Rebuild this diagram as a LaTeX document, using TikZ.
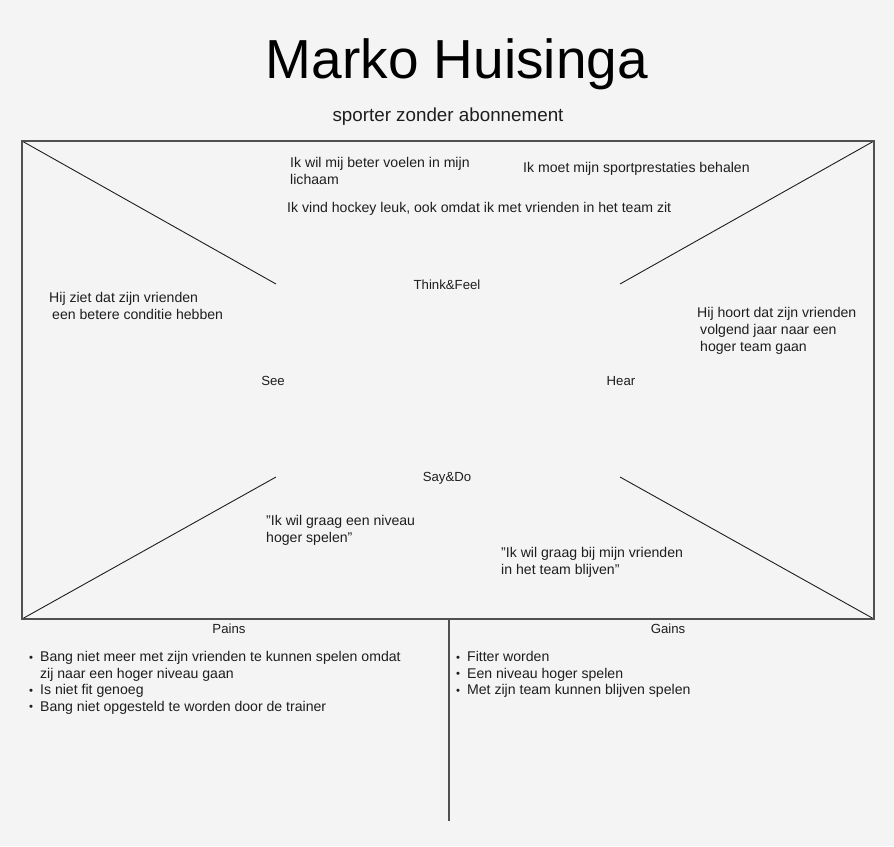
\documentclass[tikz,border=0pt]{standalone}
\usepackage{fontspec}
\setmainfont{Liberation Sans}
\definecolor{bg}{HTML}{F4F4F4}
\definecolor{ink}{HTML}{1E1E1E}
\definecolor{frame}{HTML}{505050}
\newcommand{\smallbul}{\raisebox{0.5pt}{\scalebox{0.8}{\textbullet}}}
\tikzset{
  txt/.style={anchor=north west, inner sep=0pt, align=left, text=ink, font=\fontsize{14.1}{17}\selectfont},
  lst/.style={anchor=north west, inner sep=0pt, align=left, text=ink, font=\fontsize{14.1}{16.5}\selectfont},
  lbl/.style={anchor=center, inner sep=0pt, text=ink, font=\fontsize{13.2}{16}\selectfont},
  diag/.style={draw=ink, line width=0.9pt},
  box/.style={draw=frame, line width=1.6pt},
}
\begin{document}
\begin{tikzpicture}[x=1pt,y=-1pt]
\fill[bg] (0,0) rectangle (894,846);
\useasboundingbox (0,0) rectangle (894,846);
% title
\node[anchor=base, inner sep=0pt, text=black, font=\fontsize{55}{62}\selectfont] (title) at (457,78) {Marko Huisinga};
\node[anchor=base, inner sep=0pt, text=ink, font=\fontsize{18.8}{22}\selectfont] (sub) at (448,121) {sporter zonder abonnement};
% frame
\coordinate (tl) at (22,141);
\coordinate (tr) at (874,141);
\coordinate (bl) at (22,619);
\coordinate (br) at (874,619);
\coordinate (itl) at (276,284);
\coordinate (itr) at (620,284);
\coordinate (ibl) at (276,477);
\coordinate (ibr) at (620,477);
\coordinate (divtop) at (449,619);
\coordinate (divbot) at (449,821);
\draw[diag] (tl) -- (itl);
\draw[diag] (tr) -- (itr);
\draw[diag] (bl) -- (ibl);
\draw[diag] (br) -- (ibr);
\draw[box] (tl) rectangle (br);
\draw[box] (divtop) -- (divbot);
% quadrant labels
\node[lbl] (think) at (447,285) {Think\&Feel};
\node[lbl] (see) at (273,381) {See};
\node[lbl] (hear) at (621,381) {Hear};
\node[lbl] (say) at (447,478) {Say\&Do};
% think texts
\node[txt] (t1) at (290,157) {Ik wil mij beter voelen in mijn\\lichaam};
\node[txt] (t2) at (523,162) {Ik moet mijn sportprestaties behalen};
\node[txt] (t3) at (287,202) {Ik vind hockey leuk, ook omdat ik met vrienden in het team zit};
% see
\node[txt] (s1) at (49,292) {Hij ziet dat zijn vrienden\\\hspace*{3pt}een betere conditie hebben};
% hear
\node[txt] (h1) at (697,307) {Hij hoort dat zijn vrienden\\\hspace*{3pt}volgend jaar naar een\\\hspace*{3pt}hoger team gaan};
% say
\node[txt] (d1) at (266,515) {"Ik wil graag een niveau\\hoger spelen"};
\node[txt] (d2) at (501,547) {"Ik wil graag bij mijn vrienden\\in het team blijven"};
% pains / gains
\node[lbl] (pains) at (229,629) {Pains};
\node[lbl] (gains) at (668,629) {Gains};
\node[lst] (pl) at (29,650) {\begin{tabular}{@{}l@{\hspace{7pt}}l@{}}
\smallbul & Bang niet meer met zijn vrienden te kunnen spelen omdat\\
 & zij naar een hoger niveau gaan\\
\smallbul & Is niet fit genoeg\\
\smallbul & Bang niet opgesteld te worden door de trainer
\end{tabular}};
\node[lst] (gl) at (456,650) {\begin{tabular}{@{}l@{\hspace{7pt}}l@{}}
\smallbul & Fitter worden\\
\smallbul & Een niveau hoger spelen\\
\smallbul & Met zijn team kunnen blijven spelen
\end{tabular}};
\end{tikzpicture}
\end{document}
